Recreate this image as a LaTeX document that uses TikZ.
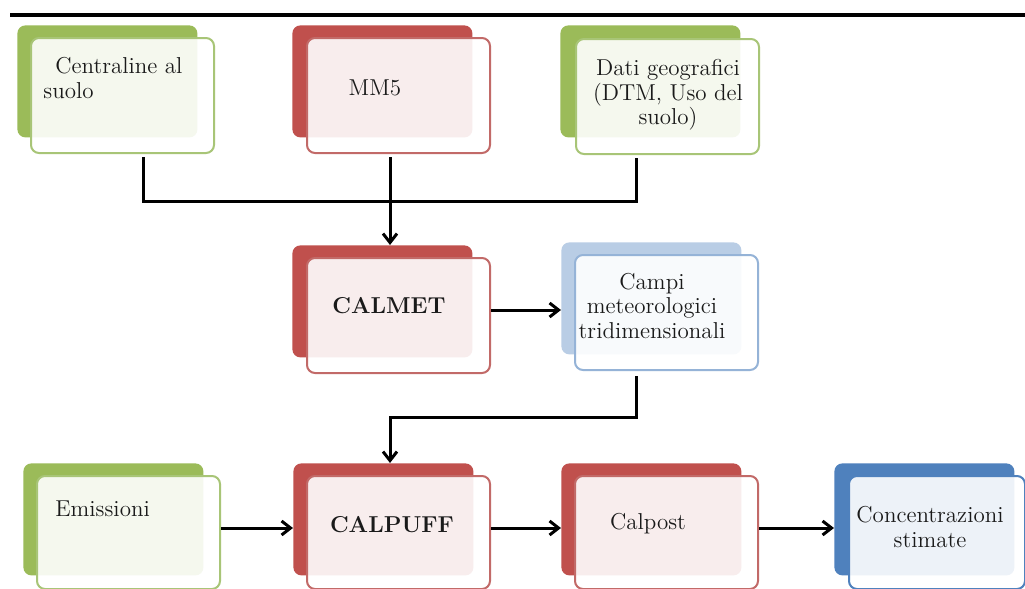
\documentclass[tikz,border=0pt]{standalone}
\usetikzlibrary{arrows.meta}
\definecolor{grn}{HTML}{9BBB59}
\definecolor{grnb}{HTML}{A8C577}
\definecolor{rd}{HTML}{C0504D}
\definecolor{rdb}{HTML}{C26A68}
\definecolor{lbl}{HTML}{B9CDE5}
\definecolor{lblb}{HTML}{95B3D7}
\definecolor{bl}{HTML}{4F81BD}
\definecolor{ink}{HTML}{1A1A1A}
\tikzset{
  backbox/.style={rounded corners=4pt, minimum width=90pt, minimum height=56pt, inner sep=0pt, anchor=north west, draw=none},
  frontbox/.style={rounded corners=4pt, minimum width=91.5pt, minimum height=57.5pt, inner sep=0pt, anchor=north west, fill=white, fill opacity=0.9, line width=1pt},
  txt/.style={font=\fontsize{11.5}{12.3}\selectfont, text=ink, inner sep=0pt, align=center},
  conn/.style={line width=1.5pt, draw=black},
  arr/.style={conn, -{Straight Barb[length=4.5pt,width=7pt]}}
}
\begin{document}
\begin{tikzpicture}[x=0.5pt,y=-0.5pt]
\useasboundingbox (0,0) rectangle (1025,589);
\fill[white] (0,0) rectangle (1025,589);
% top rule
\draw[line width=2pt] (10,15) -- (1025,15);

% Row 1
\node[backbox, fill=grn] (cen-b) at (17,25) {};
\node[frontbox, draw=grnb] (cen) at (30,37) {};
\node[txt, align=left, anchor=west] (cen-t) at (43,78) {\hspace*{6pt}Centraline al\\suolo};

\node[backbox, fill=rd] (mm5-b) at (292,25) {};
\node[frontbox, draw=rdb] (mm5) at (306,37) {};
\node[txt] (mm5-t) at (375,88) {MM5};

\node[backbox, fill=grn] (dati-b) at (560,25) {};
\node[frontbox, draw=grnb] (dati) at (575,38) {};
\node[txt] (dati-t) at (668,95) {Dati geografici\\(DTM, Uso del\\suolo)};

% Row 2
\node[backbox, fill=rd] (calmet-b) at (292,245) {};
\node[frontbox, draw=rdb] (calmet) at (306,257) {};
\node[txt] (calmet-t) at (389,306) {\textbf{CALMET}};

\node[backbox, fill=lbl] (campi-b) at (561,242) {};
\node[frontbox, draw=lblb] (campi) at (574,254) {};
\node[txt] (campi-t) at (652,306) {Campi\\meteorologici\\tridimensionali};

% Row 3
\node[backbox, fill=grn] (emi-b) at (23,463) {};
\node[frontbox, draw=grnb, minimum height=56.5pt] (emi) at (36,475) {};
\node[txt, anchor=west] (emi-t) at (55,509) {Emissioni};

\node[backbox, fill=rd] (calpuff-b) at (293,463) {};
\node[frontbox, draw=rdb, minimum height=56.5pt] (calpuff) at (306,475) {};
\node[txt] (calpuff-t) at (392,525) {\textbf{CALPUFF}};

\node[backbox, fill=rd] (calpost-b) at (561,463) {};
\node[frontbox, draw=rdb, minimum height=56.5pt] (calpost) at (574,475) {};
\node[txt] (calpost-t) at (648,524) {Calpost};

\node[backbox, fill=bl] (conc-b) at (834,463) {};
\node[frontbox, draw=bl, minimum height=56.5pt, minimum width=88pt] (conc) at (848,475) {};
\node[txt] (conc-t) at (930,527) {Concentrazioni\\stimate};

% connectors
\coordinate (j1) at (143,201);
\coordinate (j2) at (636,201);
\coordinate (j3) at (390,201);
\draw[conn, shorten <=1.5pt, shorten >=1.5pt] (cen.south -| j1) -- (j1) -- (j2) -- (dati.south -| j2);
\draw[arr, shorten <=1.5pt] (mm5.south -| j3) -- (calmet-b.north -| j3);

\coordinate (r2) at (0,310);
\draw[arr] (calmet.east |- r2) -- (campi-b.west |- r2);

\coordinate (j4) at (636,417);
\coordinate (j5) at (390,417);
\draw[arr, shorten <=2.5pt] (campi.south -| j4) -- (j4) -- (j5) -- (calpuff-b.north -| j5);

\coordinate (r3) at (0,528);
\draw[arr] (emi.east |- r3) -- (calpuff-b.west |- r3);
\draw[arr] (calpuff.east |- r3) -- (calpost-b.west |- r3);
\draw[arr] (calpost.east |- r3) -- (conc-b.west |- r3);
\end{tikzpicture}
\end{document}
